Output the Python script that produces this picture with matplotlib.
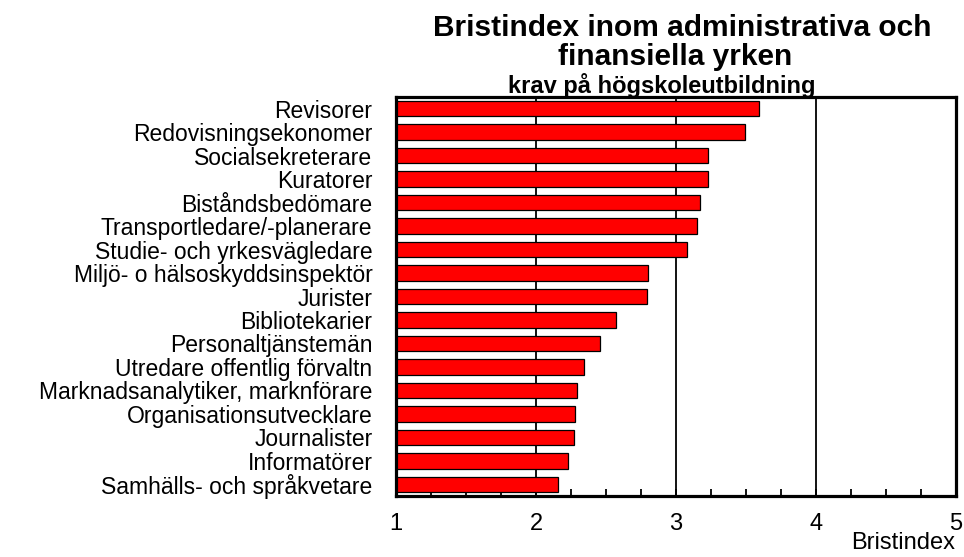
import matplotlib
matplotlib.use("Agg")
import matplotlib.pyplot as plt
import numpy as np
from matplotlib.ticker import MultipleLocator

plt.rcParams['font.family'] = ['Liberation Sans', 'DejaVu Sans']

categories = [
    "Revisorer",
    "Redovisningsekonomer",
    "Socialsekreterare",
    "Kuratorer",
    "Biståndsbedömare",
    "Transportledare/-planerare",
    "Studie- och yrkesvägledare",
    "Miljö- o hälsoskyddsinspektör",
    "Jurister",
    "Bibliotekarier",
    "Personaltjänstemän",
    "Utredare offentlig förvaltn",
    "Marknadsanalytiker, marknförare",
    "Organisationsutvecklare",
    "Journalister",
    "Informatörer",
    "Samhälls- och språkvetare",
]
values = [3.59, 3.49, 3.23, 3.23, 3.17, 3.15, 3.08, 2.80, 2.79, 2.57,
          2.46, 2.34, 2.29, 2.28, 2.27, 2.23, 2.16]
x_ticks = [1, 2, 3, 4, 5]
grid_lines = [2, 3, 4]

title_line1 = "Bristindex inom administrativa och"
title_line2 = "finansiella yrken"
subtitle = "krav på högskoleutbildning"
xlabel = "Bristindex"

fig = plt.figure(figsize=(9.64, 5.57), dpi=100)
ax = fig.add_axes([396/964, 1 - 496/557, (956 - 396)/964, (496 - 97)/557])

base = 1.0
pos = np.arange(len(categories))
for g in grid_lines:
    ax.axvline(g, color='black', lw=1.3, zorder=1)
ax.barh(pos, np.array(values) - base, left=base, height=0.66,
        color='#ff0000', edgecolor='black', linewidth=0.9, zorder=2)

ax.set_xlim(1, 5)
ax.set_ylim(len(categories) - 0.5, -0.5)
ax.set_xticks(x_ticks)
ax.set_xticklabels([str(t) for t in x_ticks], fontsize=17)
ax.xaxis.set_minor_locator(MultipleLocator(0.25))
ax.tick_params(axis='x', which='both', direction='in', length=5, width=1.3,
               pad=12, colors='black')
ax.set_yticks(pos)
ax.set_yticklabels(categories, fontsize=16.5)
ax.tick_params(axis='y', length=0, pad=17)

for s in ax.spines.values():
    s.set_linewidth(2.3)
    s.set_color('black')
    s.set_zorder(5)

fig.text(955/964, 1 - 543/557, xlabel, ha='right', va='center', fontsize=17)

fig.text(682/964, 1 - 28/557, title_line1, ha='center', va='center',
         fontsize=21.5, fontweight='bold')
fig.text(675/964, 1 - 57/557, title_line2, ha='center', va='center',
         fontsize=21.5, fontweight='bold')
fig.text(662/964, 1 - 86/557, subtitle, ha='center', va='center',
         fontsize=17, fontweight='bold')

fig.savefig("out.png", dpi=100)
